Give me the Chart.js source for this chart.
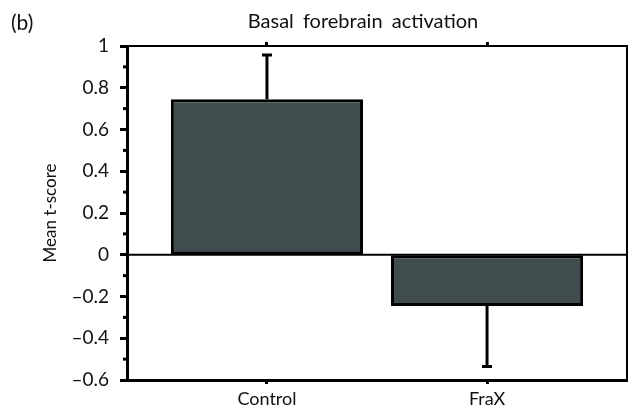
<!DOCTYPE html>
<html>
<head>
<meta charset="utf-8">
<script src="https://cdn.jsdelivr.net/npm/chart.js@4/dist/chart.umd.min.js"></script>
<style>
  html, body { margin: 0; padding: 0; background: #fff; }
  #wrap { width: 629px; height: 408px; }
</style>
</head>
<body>
<div id="wrap"><canvas id="basalChart" width="629" height="408"></canvas></div>
<script>
const categories = ['Control', 'FraX']
const categoryPos = [1, 2]
const meanScores = [0.745, -0.245]
const errorSizes = [0.212, 0.29]

const yMajor = [-0.6, -0.4, -0.2, 0, 0.2, 0.4, 0.6, 0.8, 1]
const yMajorLabels = ['\u20130.6', '\u20130.4', '\u20130.2', '0', '0.2', '0.4', '0.6', '0.8', '1']
const yMinor = [-0.5, -0.3, -0.1, 0.1, 0.3, 0.5, 0.7, 0.9]

const chartTitle = 'Basal forebrain activation'
const panelLabel = '(b)'
const yTitle = 'Mean t-score'

const FONT = 'Lato, "Open Sans", sans-serif'
const barColor = '#414c4e'

// error bars, only drawn away from zero like the original
const errorBars = {
    id: 'errorBars',
    afterDatasetsDraw(chart) {
        const ctx = chart.ctx
        const y = chart.scales.y
        const meta = chart.getDatasetMeta(0)
        ctx.save()
        ctx.strokeStyle = '#000'
        ctx.lineWidth = 3
        meta.data.forEach((bar, i) => {
            const v = meanScores[i]
            const end = v >= 0 ? v + errorSizes[i] : v - errorSizes[i]
            const y0 = y.getPixelForValue(v)
            const y1 = y.getPixelForValue(end)
            ctx.beginPath()
            ctx.moveTo(bar.x, y0)
            ctx.lineTo(bar.x, y1)
            ctx.moveTo(bar.x - 5, y1)
            ctx.lineTo(bar.x + 5, y1)
            ctx.stroke()
        })
        // zero line back on top of the bar edges
        const y0 = y.getPixelForValue(0)
        ctx.lineWidth = 2
        ctx.beginPath()
        ctx.moveTo(chart.chartArea.left, y0)
        ctx.lineTo(chart.chartArea.right, y0)
        ctx.stroke()
        ctx.restore()
    }
}

// short minor ticks on the left axis + title and panel letter
const extras = {
    id: 'extras',
    afterDraw(chart) {
        const ctx = chart.ctx
        const y = chart.scales.y
        const left = chart.chartArea.left
        ctx.save()
        ctx.strokeStyle = '#000'
        ctx.lineWidth = 3
        yMinor.forEach(v => {
            const py = y.getPixelForValue(v)
            ctx.beginPath()
            ctx.moveTo(left, py)
            ctx.lineTo(left - 4, py)
            ctx.stroke()
        })
        ctx.fillStyle = '#111'
        ctx.font = '20px ' + FONT
        ctx.textBaseline = 'middle'
        ctx.textAlign = 'center'
        ctx.wordSpacing = '4px'
        ctx.fillText(chartTitle, 363, 22)
        ctx.wordSpacing = '0px'
        ctx.font = '21px ' + FONT
        ctx.textAlign = 'left'
        ctx.fillText(panelLabel, 11, 23)
        ctx.restore()
    }
}

const setCategoryTicks = scale => {
    scale.ticks = categoryPos.map(v => ({ value: v }))
}

new Chart(document.getElementById('basalChart'), {
    type: 'bar',
    data: {
        datasets: [{
            label: 'Mean t-score',
            data: categoryPos.map((x, i) => ({ x: x, y: meanScores[i] })),
            backgroundColor: barColor,
            borderColor: '#000',
            borderWidth: 3,
            borderSkipped: false,
            barPercentage: 0.873,
            categoryPercentage: 1,
            xAxisID: 'x',
            yAxisID: 'y'
        }]
    },
    options: {
        responsive: false,
        animation: false,
        devicePixelRatio: 1,
        layout: { padding: { left: 0, right: 2, top: 40, bottom: 0 } },
        plugins: {
            legend: { display: false },
            tooltip: { enabled: false },
            title: { display: false }
        },
        scales: {
            x: {
                type: 'linear',
                position: 'bottom',
                min: 0.364,
                max: 2.636,
                offset: false,
                afterBuildTicks: setCategoryTicks,
                afterFit: s => { s.height = 28 },
                ticks: {
                    padding: 4,
                    color: '#111',
                    font: { family: FONT, size: 18 },
                    callback: (v, i) => categories[i]
                },
                grid: {
                    offset: false,
                    drawOnChartArea: false,
                    tickLength: 4,
                    tickWidth: 3,
                    tickColor: '#000'
                },
                border: { display: true, color: '#000', width: 3 }
            },
            x2: {
                type: 'linear',
                position: 'top',
                min: 0.364,
                max: 2.636,
                offset: false,
                afterBuildTicks: setCategoryTicks,
                afterFit: s => { s.height = 6 },
                ticks: { display: false },
                grid: {
                    offset: false,
                    drawOnChartArea: false,
                    tickLength: 4,
                    tickWidth: 3,
                    tickColor: '#000'
                },
                border: { display: true, color: '#000', width: 2 }
            },
            y: {
                type: 'linear',
                position: 'left',
                min: -0.6,
                max: 1,
                afterBuildTicks: s => { s.ticks = yMajor.map(v => ({ value: v })) },
                afterFit: s => { s.width = 127 },
                ticks: {
                    padding: 11,
                    color: '#111',
                    font: { family: FONT, size: 19 },
                    callback: (v, i) => yMajorLabels[i]
                },
                grid: {
                    drawOnChartArea: false,
                    tickLength: 7,
                    tickWidth: 3,
                    tickColor: '#000'
                },
                border: { display: true, color: '#000', width: 3 },
                title: {
                    display: true,
                    text: yTitle,
                    color: '#111',
                    font: { family: FONT, size: 17 },
                    padding: { top: 40, bottom: 0 }
                }
            },
            yR: {
                type: 'linear',
                position: 'right',
                min: -0.6,
                max: 1,
                afterFit: s => { s.width = 0 },
                ticks: { display: false },
                grid: { display: false, drawTicks: false },
                border: { display: true, color: '#000', width: 2 }
            }
        }
    },
    plugins: [errorBars, extras]
})
</script>
</body>
</html>
